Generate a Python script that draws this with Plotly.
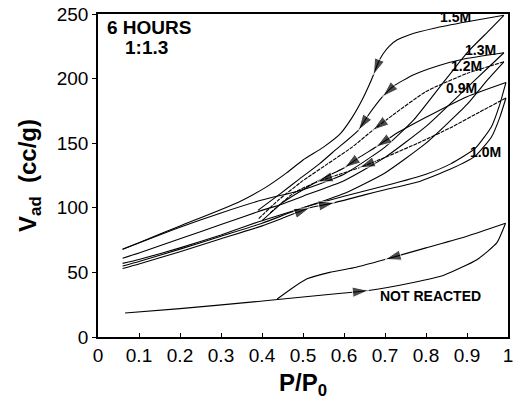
import plotly.graph_objects as go

# ---------------- data ----------------
X_TICKS = [0, 0.1, 0.2, 0.3, 0.4, 0.5, 0.6, 0.7, 0.8, 0.9, 1]
X_TICK_TEXT = ["0", "0.1", "0.2", "0.3", "0.4", "0.5", "0.6", "0.7", "0.8", "0.9", "1"]
Y_TICKS = [0, 50, 100, 150, 200, 250]

# 1.5M
X_15_ADS = [0.06, 0.2, 0.3, 0.4, 0.5, 0.6, 0.7, 0.77, 0.83, 0.9, 0.95, 0.99]
Y_15_ADS = [68, 85, 96, 106, 114, 126, 147, 168, 192, 220, 236, 249]
X_15_DES = [0.99, 0.9, 0.82, 0.76, 0.73, 0.71, 0.695, 0.683, 0.672, 0.66, 0.645, 0.62, 0.59, 0.55, 0.5, 0.46, 0.41, 0.34, 0.2, 0.1, 0.06]
Y_15_DES = [249, 244, 239, 234, 230, 225, 219, 212, 203, 194, 184, 170, 157, 147, 137, 127, 116, 104, 86, 73, 68]

# 1.3M
X_13_ADS = [0.06, 0.1, 0.2, 0.3, 0.39, 0.45, 0.5, 0.6, 0.7, 0.8, 0.9, 0.95, 0.99]
Y_13_ADS = [61, 65, 76, 87, 97, 103, 109, 121, 139, 163, 193, 208, 220]
X_13_DES = [0.99, 0.89, 0.83, 0.77, 0.72, 0.694, 0.66, 0.635, 0.58, 0.54, 0.49, 0.445, 0.39]
Y_13_DES = [220, 215, 210, 203, 194, 186, 172, 160, 145, 134, 122, 111, 98]

# 1.2M
X_12_ADS = [0.06, 0.1, 0.2, 0.3, 0.39, 0.45, 0.5, 0.6, 0.7, 0.8, 0.9, 0.95, 0.99]
Y_12_ADS = [57, 60, 69, 79, 89, 95, 100, 111, 127, 150, 180, 199, 213]
X_12_DES = [0.99, 0.9, 0.8, 0.72, 0.67, 0.62, 0.56, 0.5, 0.44, 0.39]
Y_12_DES = [213, 204, 190, 172, 160, 147, 134, 121, 106, 91]

# 0.9M
X_09_ADS = [0.06, 0.1, 0.2, 0.3, 0.4, 0.5, 0.6, 0.7, 0.8, 0.86, 0.92, 0.96, 0.98, 0.995]
Y_09_ADS = [55, 58.5, 68, 78, 88, 100, 109, 117, 126, 134, 146, 163, 180, 197]
X_09_DES = [0.995, 0.9, 0.8, 0.72, 0.678, 0.637, 0.601, 0.55, 0.5, 0.45, 0.4]
Y_09_DES = [197, 186, 170, 156, 147, 139, 131, 123, 114, 104, 90]

# 1.0M
X_10_ADS = [0.06, 0.1, 0.2, 0.3, 0.4, 0.45, 0.517, 0.577, 0.65, 0.7, 0.78, 0.86, 0.92, 0.96, 0.98, 0.995]
Y_10_ADS = [53, 56.5, 66, 76, 86, 92, 100, 104, 110, 114, 120, 130, 140, 155, 170, 185]
X_10_DES = [0.995, 0.93, 0.86, 0.78, 0.7, 0.637, 0.58, 0.534, 0.48, 0.42]
Y_10_DES = [185, 174, 162, 150, 139, 131, 125, 120, 112, 96]

# not reacted
X_NR_ADS = [0.066, 0.2, 0.39, 0.5, 0.6, 0.66, 0.766, 0.845, 0.925, 0.973, 0.994]
Y_NR_ADS = [18.6, 22, 27.5, 31, 34, 36, 42, 48, 60, 73, 88]
X_NR_DES = [0.994, 0.9, 0.8, 0.7, 0.63, 0.565, 0.51, 0.47, 0.437]
Y_NR_DES = [88, 78, 69, 60, 54, 50, 45, 37, 29.4]

# branches: (x, y, index of arrow heads along the branch, dash)
BRANCHES = [
    (X_15_ADS, Y_15_ADS, [], "solid"),
    (X_15_DES, Y_15_DES, [8], "solid"),
    (X_13_ADS, Y_13_ADS, [], "solid"),
    (X_13_DES, Y_13_DES, [5, 7], "solid"),
    (X_12_ADS, Y_12_ADS, [], "solid"),
    (X_12_DES, Y_12_DES, [4], "4px,1px"),
    (X_09_ADS, Y_09_ADS, [], "solid"),
    (X_09_DES, Y_09_DES, [4, 6], "solid"),
    (X_10_ADS, Y_10_ADS, [6, 7], "solid"),
    (X_10_DES, Y_10_DES, [5, 7], "4px,1px"),
    (X_NR_ADS, Y_NR_ADS, [5], "solid"),
    (X_NR_DES, Y_NR_DES, [3], "solid"),
]

fig = go.Figure()
for xs, ys, arrows, dash in BRANCHES:
    sizes = [17 if i in arrows else 0 for i in range(len(xs))]
    fig.add_trace(go.Scatter(
        x=xs, y=ys, mode="lines+markers",
        line=dict(color="black", width=1.1, shape="spline", smoothing=0.5, dash=dash),
        marker=dict(symbol="arrow", size=sizes, color="black", angleref="previous"),
        hoverinfo="skip",
    ))

FONT = "Liberation Sans, Arial, Helvetica, sans-serif"
labels = [
    ("1.5M", 0.872, 248),
    ("1.3M", 0.934, 222),
    ("1.2M", 0.898, 210),
    ("0.9M", 0.886, 193),
    ("1.0M", 0.944, 143),
    ("NOT REACTED", 0.81, 32),
]
for txt, lx, ly in labels:
    fig.add_annotation(x=lx, y=ly, text="<b>" + txt + "</b>", showarrow=False,
                       font=dict(family=FONT, size=14, color="black"),
                       xanchor="center", yanchor="middle")

fig.add_annotation(x=0.016, y=0.958, xref="paper", yref="paper",
                   text="<b>6 HOURS</b>", showarrow=False,
                   font=dict(family=FONT, size=19, color="black"),
                   xanchor="left", yanchor="middle")
fig.add_annotation(x=0.061, y=0.896, xref="paper", yref="paper",
                   text="<b>1:1.3</b>", showarrow=False,
                   font=dict(family=FONT, size=19, color="black"),
                   xanchor="left", yanchor="middle")

fig.update_layout(
    width=516, height=404,
    margin=dict(l=98, r=3, t=14, b=67),
    plot_bgcolor="white", paper_bgcolor="white",
    showlegend=False,
    font=dict(family=FONT, color="black"),
)
fig.update_xaxes(
    range=[0, 1], tickvals=X_TICKS, ticktext=X_TICK_TEXT,
    ticks="inside", ticklen=4, tickwidth=1, tickcolor="black",
    ticklabeloverflow="allow",
    showline=True, linewidth=1.5, linecolor="black", mirror=True,
    showgrid=False, zeroline=False,
    tickfont=dict(family=FONT, size=19),
    title=dict(text="<b>P/P<sub>0</sub></b>", font=dict(family=FONT, size=24), standoff=10),
)
fig.update_yaxes(
    range=[0, 250], tickvals=Y_TICKS,
    ticks="outside", ticklen=4, tickwidth=1, tickcolor="black",
    showline=True, linewidth=1.5, linecolor="black", mirror=True,
    showgrid=False, zeroline=False,
    tickfont=dict(family=FONT, size=19),
    title=dict(text="<b>V<sub>ad</sub>  (cc/g)</b>", font=dict(family=FONT, size=24), standoff=13),
)

fig.write_html("out.html")
